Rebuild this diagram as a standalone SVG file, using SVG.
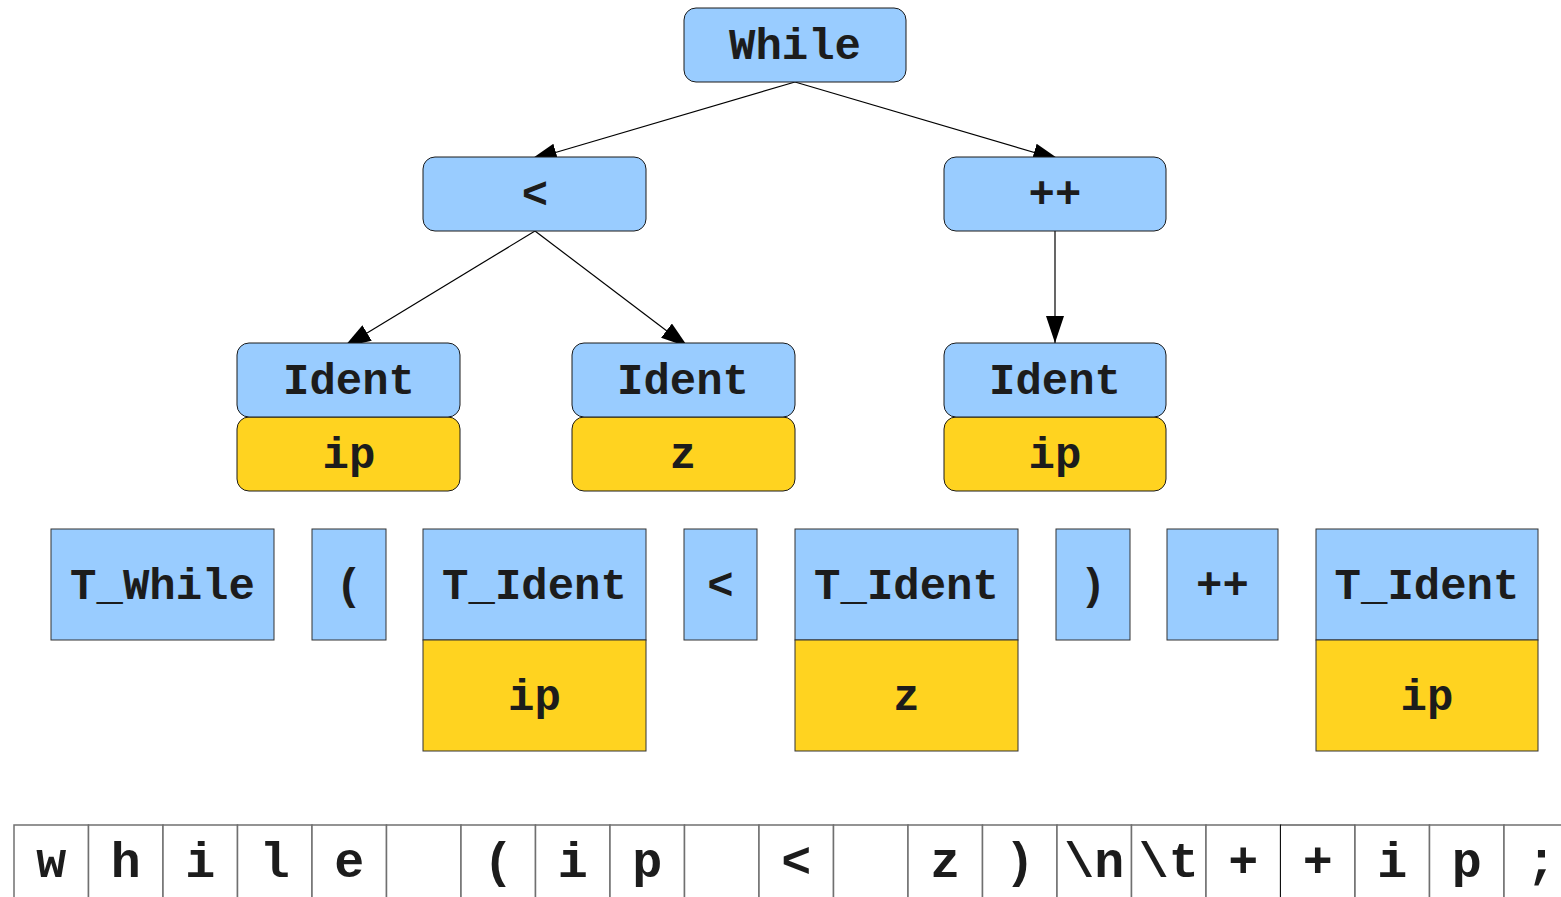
<svg xmlns="http://www.w3.org/2000/svg" width="1561" height="897" viewBox="0 0 1561 897">
<defs>
<style>
.t{font-family:"Liberation Mono","DejaVu Sans Mono",monospace;font-weight:bold;font-size:44px;fill:#1c1c1c;text-anchor:middle}
.c{font-family:"Liberation Mono","DejaVu Sans Mono",monospace;font-weight:bold;font-size:50px;fill:#1c1c1c;text-anchor:middle}
.bn{fill:#99ccff;stroke:#1a1a1a;stroke-width:1}
.yn{fill:#ffd320;stroke:#1a1a1a;stroke-width:1}
.bt{fill:#99ccff;stroke:#333;stroke-width:1}
.yt{fill:#ffd320;stroke:#333;stroke-width:1}
.cell{fill:#fff;stroke:#707070;stroke-width:1.5}
.e{stroke:#000;stroke-width:1.2;fill:none;marker-end:url(#ah)}
</style>
<marker id="ah" viewBox="0 0 27 18" refX="27" refY="9" markerWidth="27" markerHeight="18" markerUnits="userSpaceOnUse" orient="auto">
<path d="M0,0 L27,9 L0,18 Z" fill="#000"/>
</marker>
</defs>
<rect width="1561" height="897" fill="#fff"/>
<g id="connectors">
<line class="e" x1="795" y1="82" x2="530" y2="160"/>
<line class="e" x1="795" y1="82" x2="1060" y2="160"/>
<line class="e" x1="535" y1="231" x2="344" y2="347"/>
<line class="e" x1="535" y1="231" x2="688" y2="347"/>
<line class="e" x1="1055" y1="231" x2="1055" y2="343"/>
</g>
<g id="n-while"><rect class="bn" x="684" y="8" width="222" height="74" rx="12"/><text class="t" x="795" y="59">While</text></g>
<g id="n-lt"><rect class="bn" x="423" y="157" width="223" height="74" rx="12"/><text class="t" x="535" y="208">&lt;</text></g>
<g id="n-inc"><rect class="bn" x="944" y="157" width="222" height="74" rx="12"/><text class="t" x="1055" y="208">++</text></g>
<g id="n-ident1"><rect class="yn" x="237" y="417" width="223" height="74" rx="12"/><rect class="bn" x="237" y="343" width="223" height="74" rx="12"/><text class="t" x="349" y="394">Ident</text><text class="t" x="349" y="468">ip</text></g>
<g id="n-ident2"><rect class="yn" x="572" y="417" width="223" height="74" rx="12"/><rect class="bn" x="572" y="343" width="223" height="74" rx="12"/><text class="t" x="683" y="394">Ident</text><text class="t" x="683" y="468">z</text></g>
<g id="n-ident3"><rect class="yn" x="944" y="417" width="222" height="74" rx="12"/><rect class="bn" x="944" y="343" width="222" height="74" rx="12"/><text class="t" x="1055" y="394">Ident</text><text class="t" x="1055" y="468">ip</text></g>
<g id="tok-while"><rect class="bt" x="51" y="529" width="223" height="111"/><text class="t" x="162.5" y="599">T_While</text></g>
<g id="tok-lparen"><rect class="bt" x="312" y="529" width="74" height="111"/><text class="t" x="349" y="599">(</text></g>
<g id="tok-ident1"><rect class="bt" x="423" y="529" width="223" height="111"/><rect class="yt" x="423" y="640" width="223" height="111"/><text class="t" x="534.5" y="599">T_Ident</text><text class="t" x="534.5" y="710">ip</text></g>
<g id="tok-lt"><rect class="bt" x="684" y="529" width="73" height="111"/><text class="t" x="720.5" y="599">&lt;</text></g>
<g id="tok-ident2"><rect class="bt" x="795" y="529" width="223" height="111"/><rect class="yt" x="795" y="640" width="223" height="111"/><text class="t" x="906.5" y="599">T_Ident</text><text class="t" x="906.5" y="710">z</text></g>
<g id="tok-rparen"><rect class="bt" x="1056" y="529" width="74" height="111"/><text class="t" x="1093" y="599">)</text></g>
<g id="tok-inc"><rect class="bt" x="1167" y="529" width="111" height="111"/><text class="t" x="1222.5" y="599">++</text></g>
<g id="tok-ident3"><rect class="bt" x="1316" y="529" width="222" height="111"/><rect class="yt" x="1316" y="640" width="222" height="111"/><text class="t" x="1427" y="599">T_Ident</text><text class="t" x="1427" y="710">ip</text></g>
<g id="chars">
<rect class="cell" x="14" y="825" width="74.5" height="90"/><text class="c" x="51.25" y="877">w</text>
<rect class="cell" x="88.5" y="825" width="74.5" height="90"/><text class="c" x="125.75" y="877">h</text>
<rect class="cell" x="163" y="825" width="74.5" height="90"/><text class="c" x="200.25" y="877">i</text>
<rect class="cell" x="237.5" y="825" width="74.5" height="90"/><text class="c" x="274.75" y="877">l</text>
<rect class="cell" x="312" y="825" width="74.5" height="90"/><text class="c" x="349.25" y="877">e</text>
<rect class="cell" x="386.5" y="825" width="74.5" height="90"/>
<rect class="cell" x="461" y="825" width="74.5" height="90"/><text class="c" x="498.25" y="877">(</text>
<rect class="cell" x="535.5" y="825" width="74.5" height="90"/><text class="c" x="572.75" y="877">i</text>
<rect class="cell" x="610" y="825" width="74.5" height="90"/><text class="c" x="647.25" y="877">p</text>
<rect class="cell" x="684.5" y="825" width="74.5" height="90"/>
<rect class="cell" x="759" y="825" width="74.5" height="90"/><text class="c" x="796.25" y="877">&lt;</text>
<rect class="cell" x="833.5" y="825" width="74.5" height="90"/>
<rect class="cell" x="908" y="825" width="74.5" height="90"/><text class="c" x="945.25" y="877">z</text>
<rect class="cell" x="982.5" y="825" width="74.5" height="90"/><text class="c" x="1019.75" y="877">)</text>
<rect class="cell" x="1057" y="825" width="74.5" height="90"/><text class="c" x="1094.25" y="877">\n</text>
<rect class="cell" x="1131.5" y="825" width="74.5" height="90"/><text class="c" x="1168.75" y="877">\t</text>
<rect class="cell" x="1206" y="825" width="74.5" height="90"/><text class="c" x="1243.25" y="877">+</text>
<rect class="cell" x="1280.5" y="825" width="74.5" height="90" style="stroke:#111;stroke-width:1"/><text class="c" x="1317.75" y="877">+</text>
<rect class="cell" x="1355" y="825" width="74.5" height="90"/><text class="c" x="1392.25" y="877">i</text>
<rect class="cell" x="1429.5" y="825" width="74.5" height="90"/><text class="c" x="1466.75" y="877">p</text>
<rect class="cell" x="1504" y="825" width="74.5" height="90"/><text class="c" x="1541.25" y="877">;</text>
</g>
</svg>
